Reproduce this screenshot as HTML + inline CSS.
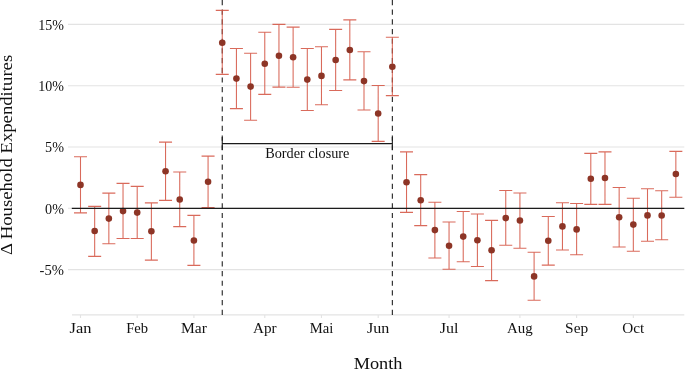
<!DOCTYPE html>
<html><head><meta charset="utf-8"><title>Border closure chart</title>
<style>html,body{margin:0;padding:0;background:#fff}svg{display:block}text{font-family:"Liberation Serif",serif;fill:#111}</style></head><body>
<svg width="685" height="370" viewBox="0 0 685 370">
<rect width="685" height="370" fill="#fff"/>
<line x1="68" x2="684.3" y1="24.40" y2="24.40" stroke="#e3e3e3" stroke-width="1.1"/>
<line x1="68" x2="684.3" y1="85.70" y2="85.70" stroke="#e3e3e3" stroke-width="1.1"/>
<line x1="68" x2="684.3" y1="147.00" y2="147.00" stroke="#e3e3e3" stroke-width="1.1"/>
<line x1="68" x2="684.3" y1="208.30" y2="208.30" stroke="#e3e3e3" stroke-width="1.1"/>
<line x1="68" x2="684.3" y1="269.60" y2="269.60" stroke="#e3e3e3" stroke-width="1.1"/>
<line x1="72" x2="684.3" y1="314.9" y2="314.9" stroke="#e3e3e3" stroke-width="1.1"/>
<line x1="80.50" x2="80.50" y1="314.9" y2="318" stroke="#e3e3e3" stroke-width="1.1"/>
<line x1="137.20" x2="137.20" y1="314.9" y2="318" stroke="#e3e3e3" stroke-width="1.1"/>
<line x1="193.90" x2="193.90" y1="314.9" y2="318" stroke="#e3e3e3" stroke-width="1.1"/>
<line x1="264.77" x2="264.77" y1="314.9" y2="318" stroke="#e3e3e3" stroke-width="1.1"/>
<line x1="321.48" x2="321.48" y1="314.9" y2="318" stroke="#e3e3e3" stroke-width="1.1"/>
<line x1="378.18" x2="378.18" y1="314.9" y2="318" stroke="#e3e3e3" stroke-width="1.1"/>
<line x1="449.05" x2="449.05" y1="314.9" y2="318" stroke="#e3e3e3" stroke-width="1.1"/>
<line x1="519.92" x2="519.92" y1="314.9" y2="318" stroke="#e3e3e3" stroke-width="1.1"/>
<line x1="576.62" x2="576.62" y1="314.9" y2="318" stroke="#e3e3e3" stroke-width="1.1"/>
<line x1="633.33" x2="633.33" y1="314.9" y2="318" stroke="#e3e3e3" stroke-width="1.1"/>
<line x1="222.25" x2="222.25" y1="314.9" y2="-1" stroke="#222" stroke-width="1.1" stroke-dasharray="5.2 4.48"/>
<line x1="392.35" x2="392.35" y1="314.9" y2="-1" stroke="#222" stroke-width="1.1" stroke-dasharray="5.2 4.48"/>
<path d="M222.25 136.9V150.1M222.25 143.6H392.35M392.35 136.9V150.1" stroke="#1a1a1a" stroke-width="1.1" fill="none"/>
<path d="M74.00 156.8h13M74.00 212.9h13M80.50 156.8V212.9M88.17 206.4h13M88.17 256.4h13M94.67 206.4V256.4M102.35 193.1h13M102.35 243.7h13M108.85 193.1V243.7M116.53 183.4h13M116.53 238.5h13M123.03 183.4V238.5M130.70 186.4h13M130.70 238.5h13M137.20 186.4V238.5M144.88 202.9h13M144.88 260.1h13M151.38 202.9V260.1M159.05 142.1h13M159.05 200.4h13M165.55 142.1V200.4M173.23 172.0h13M173.23 226.6h13M179.73 172.0V226.6M187.40 215.4h13M187.40 265.4h13M193.90 215.4V265.4M201.57 156.1h13M201.57 207.5h13M208.07 156.1V207.5M215.75 10.4h13M215.75 74.4h13M222.25 10.4V74.4M229.93 48.5h13M229.93 108.6h13M236.43 48.5V108.6M244.10 53.2h13M244.10 120.2h13M250.60 53.2V120.2M258.27 32.3h13M258.27 94.4h13M264.77 32.3V94.4M272.45 24.4h13M272.45 87.1h13M278.95 24.4V87.1M286.62 27.1h13M286.62 87.3h13M293.12 27.1V87.3M300.80 48.5h13M300.80 110.5h13M307.30 48.5V110.5M314.98 46.8h13M314.98 104.8h13M321.48 46.8V104.8M329.15 29.4h13M329.15 90.5h13M335.65 29.4V90.5M343.32 19.9h13M343.32 79.9h13M349.82 19.9V79.9M357.50 51.7h13M357.50 110.0h13M364.00 51.7V110.0M371.68 85.5h13M371.68 141.4h13M378.18 85.5V141.4M385.85 37.3h13M385.85 95.6h13M392.35 37.3V95.6M400.03 151.9h13M400.03 212.4h13M406.53 151.9V212.4M414.20 174.6h13M414.20 225.6h13M420.70 174.6V225.6M428.38 202.2h13M428.38 258.0h13M434.88 202.2V258.0M442.55 222.0h13M442.55 269.2h13M449.05 222.0V269.2M456.73 211.5h13M456.73 261.7h13M463.23 211.5V261.7M470.90 214.0h13M470.90 266.5h13M477.40 214.0V266.5M485.08 220.4h13M485.08 280.6h13M491.58 220.4V280.6M499.25 190.5h13M499.25 245.3h13M505.75 190.5V245.3M513.42 193.0h13M513.42 248.3h13M519.92 193.0V248.3M527.60 252.3h13M527.60 300.3h13M534.10 252.3V300.3M541.78 216.5h13M541.78 265.1h13M548.28 216.5V265.1M555.95 202.7h13M555.95 250.0h13M562.45 202.7V250.0M570.12 203.5h13M570.12 254.7h13M576.62 203.5V254.7M584.30 153.4h13M584.30 204.4h13M590.80 153.4V204.4M598.48 151.9h13M598.48 204.4h13M604.98 151.9V204.4M612.65 187.5h13M612.65 247.0h13M619.15 187.5V247.0M626.83 198.2h13M626.83 251.2h13M633.33 198.2V251.2M641.00 188.7h13M641.00 241.3h13M647.50 188.7V241.3M655.18 190.7h13M655.18 239.8h13M661.68 190.7V239.8M669.35 151.4h13M669.35 197.2h13M675.85 151.4V197.2" stroke="#d45544" stroke-width="1.07" stroke-opacity="0.88" fill="none"/>
<circle cx="80.50" cy="184.9" r="3.3" fill="#8d3526"/>
<circle cx="94.67" cy="231" r="3.3" fill="#8d3526"/>
<circle cx="108.85" cy="218.6" r="3.3" fill="#8d3526"/>
<circle cx="123.03" cy="211.1" r="3.3" fill="#8d3526"/>
<circle cx="137.20" cy="212.6" r="3.3" fill="#8d3526"/>
<circle cx="151.38" cy="231.3" r="3.3" fill="#8d3526"/>
<circle cx="165.55" cy="171.2" r="3.3" fill="#8d3526"/>
<circle cx="179.73" cy="199.5" r="3.3" fill="#8d3526"/>
<circle cx="193.90" cy="240.5" r="3.3" fill="#8d3526"/>
<circle cx="208.07" cy="181.7" r="3.3" fill="#8d3526"/>
<circle cx="222.25" cy="42.8" r="3.3" fill="#8d3526"/>
<circle cx="236.43" cy="78.6" r="3.3" fill="#8d3526"/>
<circle cx="250.60" cy="86.6" r="3.3" fill="#8d3526"/>
<circle cx="264.77" cy="63.7" r="3.3" fill="#8d3526"/>
<circle cx="278.95" cy="55.7" r="3.3" fill="#8d3526"/>
<circle cx="293.12" cy="57.2" r="3.3" fill="#8d3526"/>
<circle cx="307.30" cy="79.6" r="3.3" fill="#8d3526"/>
<circle cx="321.48" cy="75.9" r="3.3" fill="#8d3526"/>
<circle cx="335.65" cy="60" r="3.3" fill="#8d3526"/>
<circle cx="349.82" cy="50" r="3.3" fill="#8d3526"/>
<circle cx="364.00" cy="81.1" r="3.3" fill="#8d3526"/>
<circle cx="378.18" cy="113.5" r="3.3" fill="#8d3526"/>
<circle cx="392.35" cy="66.7" r="3.3" fill="#8d3526"/>
<circle cx="406.53" cy="182.3" r="3.3" fill="#8d3526"/>
<circle cx="420.70" cy="200.2" r="3.3" fill="#8d3526"/>
<circle cx="434.88" cy="230.1" r="3.3" fill="#8d3526"/>
<circle cx="449.05" cy="245.8" r="3.3" fill="#8d3526"/>
<circle cx="463.23" cy="236.6" r="3.3" fill="#8d3526"/>
<circle cx="477.40" cy="240.3" r="3.3" fill="#8d3526"/>
<circle cx="491.58" cy="250.3" r="3.3" fill="#8d3526"/>
<circle cx="505.75" cy="218.1" r="3.3" fill="#8d3526"/>
<circle cx="519.92" cy="220.5" r="3.3" fill="#8d3526"/>
<circle cx="534.10" cy="276.4" r="3.3" fill="#8d3526"/>
<circle cx="548.28" cy="240.8" r="3.3" fill="#8d3526"/>
<circle cx="562.45" cy="226.4" r="3.3" fill="#8d3526"/>
<circle cx="576.62" cy="229.4" r="3.3" fill="#8d3526"/>
<circle cx="590.80" cy="178.8" r="3.3" fill="#8d3526"/>
<circle cx="604.98" cy="178" r="3.3" fill="#8d3526"/>
<circle cx="619.15" cy="217.2" r="3.3" fill="#8d3526"/>
<circle cx="633.33" cy="224.6" r="3.3" fill="#8d3526"/>
<circle cx="647.50" cy="215.4" r="3.3" fill="#8d3526"/>
<circle cx="661.68" cy="215.5" r="3.3" fill="#8d3526"/>
<circle cx="675.85" cy="174" r="3.3" fill="#8d3526"/>
<line x1="71.8" x2="684.3" y1="208.4" y2="208.4" stroke="#1c1c1c" stroke-width="1.15"/>
<text x="80.50" y="332.8" font-size="15" text-anchor="middle" textLength="21.9" lengthAdjust="spacingAndGlyphs">Jan</text>
<text x="137.20" y="332.8" font-size="15" text-anchor="middle" textLength="21.9" lengthAdjust="spacingAndGlyphs">Feb</text>
<text x="193.90" y="332.8" font-size="15" text-anchor="middle" textLength="25.9" lengthAdjust="spacingAndGlyphs">Mar</text>
<text x="264.77" y="332.8" font-size="15" text-anchor="middle" textLength="23.6" lengthAdjust="spacingAndGlyphs">Apr</text>
<text x="321.48" y="332.8" font-size="15" text-anchor="middle" textLength="23.6" lengthAdjust="spacingAndGlyphs">Mai</text>
<text x="378.18" y="332.8" font-size="15" text-anchor="middle" textLength="22.3" lengthAdjust="spacingAndGlyphs">Jun</text>
<text x="449.05" y="332.8" font-size="15" text-anchor="middle" textLength="18.7" lengthAdjust="spacingAndGlyphs">Jul</text>
<text x="519.92" y="332.8" font-size="15" text-anchor="middle" textLength="25.7" lengthAdjust="spacingAndGlyphs">Aug</text>
<text x="576.62" y="332.8" font-size="15" text-anchor="middle" textLength="23.1" lengthAdjust="spacingAndGlyphs">Sep</text>
<text x="633.33" y="332.8" font-size="15" text-anchor="middle" textLength="22.0" lengthAdjust="spacingAndGlyphs">Oct</text>
<text x="64" y="29.60" font-size="15.5" text-anchor="end" textLength="25.7" lengthAdjust="spacingAndGlyphs">15%</text>
<text x="64" y="90.90" font-size="15.5" text-anchor="end" textLength="25.7" lengthAdjust="spacingAndGlyphs">10%</text>
<text x="64" y="152.20" font-size="15.5" text-anchor="end" textLength="18.9" lengthAdjust="spacingAndGlyphs">5%</text>
<text x="64" y="213.50" font-size="15.5" text-anchor="end" textLength="18.9" lengthAdjust="spacingAndGlyphs">0%</text>
<text x="64" y="274.80" font-size="15.5" text-anchor="end" textLength="24.4" lengthAdjust="spacingAndGlyphs">-5%</text>
<text x="307.30" y="158.3" font-size="14" text-anchor="middle" textLength="84.3" lengthAdjust="spacingAndGlyphs">Border closure</text>
<text x="378.1" y="369.2" font-size="17" text-anchor="middle" textLength="48.8" lengthAdjust="spacingAndGlyphs">Month</text>
<text transform="translate(12.2 154.9) rotate(-90)" font-size="17" text-anchor="middle" textLength="200.2" lengthAdjust="spacingAndGlyphs">Δ Household Expenditures</text>
</svg></body></html>
